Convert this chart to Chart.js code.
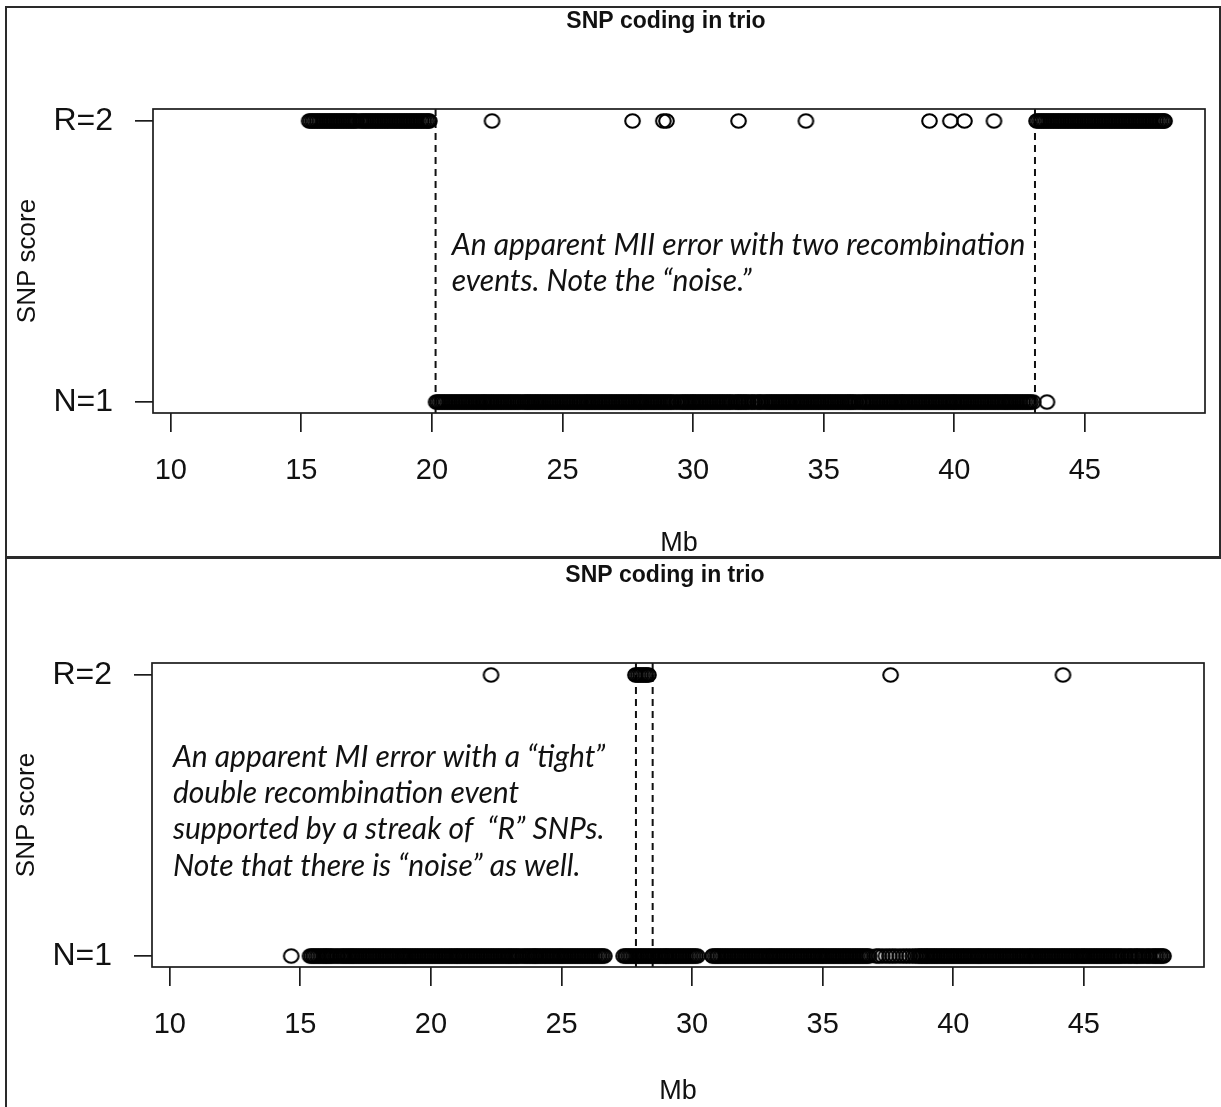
<!DOCTYPE html>
<html>
<head>
<meta charset="utf-8">
<script src="https://cdn.jsdelivr.net/npm/chart.js@4.4.0/dist/chart.umd.min.js"></script>
<style>
  body { margin: 0; background: #fff; width: 1221px; height: 1107px; overflow: hidden; position: relative; }
  .frame { position: absolute; border: 2px solid #2a2a2a; box-sizing: border-box; }
  canvas { position: absolute; }
</style>
</head>
<body>
<div class="frame" style="left:5px;top:6px;width:1216px;height:552px"></div>
<div class="frame" style="left:5px;top:557px;width:1240px;height:600px"></div>
<canvas id="topChart" width="1221" height="560" style="left:0;top:0"></canvas>
<canvas id="bottomChart" width="1221" height="554" style="left:-1.5px;top:554px"></canvas>
<script>
// axis ticks shared by both panels
var xTicks = [10, 15, 20, 25, 30, 35, 40, 45];
var yTickValues = [1, 2];
var yTickLabels = ['N=1', 'R=2'];

// upper panel: SNP positions (Mb) scored R=2 and N=1
var topR = [
  15.30, 15.36, 15.43, 15.49, 15.56, 15.62, 15.69, 15.75, 15.82, 15.88, 15.95,
  16.01, 16.08, 16.14, 16.21, 16.27, 16.34, 16.40, 16.47, 16.53, 16.60, 16.66, 16.73, 16.80, 16.86, 16.93, 16.99,
  17.06, 17.12, 17.24, 17.31, 17.38, 17.45, 17.51, 17.58, 17.65, 17.71, 17.78, 17.84, 17.91, 17.97,
  18.04, 18.10, 18.17, 18.23, 18.30, 18.36, 18.43, 18.50, 18.56, 18.63, 18.69, 18.76, 18.82, 18.89, 18.95,
  19.02, 19.08, 19.15, 19.21, 19.28, 19.34, 19.41, 19.47, 19.54, 19.60, 19.67, 19.73, 19.80, 19.86, 19.90,
  22.30, 27.68, 28.86, 28.98, 31.74, 34.32, 39.05, 39.85, 40.39, 41.52,
  43.15, 43.21, 43.28, 43.34, 43.41, 43.47, 43.54, 43.60, 43.67, 43.73, 43.80, 43.86, 43.93, 43.99,
  44.06, 44.12, 44.19, 44.25, 44.32, 44.38, 44.45, 44.51, 44.58, 44.64, 44.71, 44.77, 44.84, 44.90, 44.97,
  45.03, 45.10, 45.16, 45.23, 45.29, 45.36, 45.42, 45.49, 45.55, 45.62, 45.68, 45.75, 45.81, 45.88, 45.94,
  46.01, 46.07, 46.14, 46.20, 46.27, 46.33, 46.40, 46.46, 46.53, 46.59, 46.66, 46.72, 46.79, 46.85, 46.92, 46.98,
  47.05, 47.11, 47.18, 47.24, 47.31, 47.37, 47.44, 47.50, 47.57, 47.63, 47.70, 47.76, 47.83, 47.89, 47.96,
  48.02, 48.05
];
var topN = [
  20.16, 20.22, 20.28, 20.35, 20.41, 20.48, 20.54, 20.61, 20.67, 20.74, 20.80, 20.87, 20.93,
  21.00, 21.06, 21.13, 21.19, 21.26, 21.32, 21.39, 21.45, 21.52, 21.58, 21.65, 21.71, 21.78, 21.84, 21.91, 21.97,
  22.02, 22.09, 22.15, 22.22, 22.28, 22.35, 22.41, 22.48, 22.54, 22.61, 22.67, 22.74, 22.80, 22.87, 22.93,
  23.00, 23.06, 23.13, 23.19, 23.26, 23.32, 23.39, 23.47, 23.55, 23.60, 23.66, 23.72, 23.78, 23.84, 23.91, 23.97,
  24.03, 24.09, 24.15, 24.22, 24.28, 24.35, 24.41, 24.48, 24.54, 24.61, 24.67, 24.74, 24.80, 24.87, 24.93,
  25.00, 25.06, 25.13, 25.19, 25.26, 25.32, 25.39, 25.45, 25.52, 25.58, 25.65, 25.71, 25.78, 25.84, 25.91, 25.97,
  26.02, 26.09, 26.15, 26.22, 26.28, 26.35, 26.41, 26.48, 26.54, 26.61, 26.67, 26.74, 26.80, 26.87, 26.93,
  27.00, 27.06, 27.13, 27.19, 27.26, 27.32, 27.39, 27.45, 27.52, 27.58, 27.65, 27.71, 27.78, 27.84, 27.91, 27.97,
  28.02, 28.09, 28.15, 28.22, 28.28, 28.35, 28.41, 28.48, 28.54, 28.61, 28.67, 28.74, 28.80, 28.87, 28.93,
  29.00, 29.06, 29.13, 29.19, 29.26, 29.36, 29.42, 29.52, 29.58, 29.65, 29.71, 29.78, 29.84, 29.91, 29.97,
  30.02, 30.09, 30.15, 30.22, 30.28, 30.35, 30.41, 30.48, 30.54, 30.61, 30.67, 30.74, 30.80, 30.87, 30.93,
  31.00, 31.06, 31.13, 31.19, 31.26, 31.32, 31.39, 31.45, 31.52, 31.62, 31.68, 31.74, 31.80, 31.86, 31.93, 31.99,
  32.06, 32.12, 32.22, 32.28, 32.35, 32.45, 32.51, 32.58, 32.64, 32.74, 32.80, 32.87, 32.93,
  33.00, 33.06, 33.13, 33.19, 33.26, 33.32, 33.39, 33.45, 33.52, 33.58, 33.65, 33.71, 33.78, 33.84, 33.91, 33.97,
  34.02, 34.09, 34.15, 34.22, 34.28, 34.35, 34.41, 34.48, 34.54, 34.61, 34.67, 34.74, 34.80, 34.87, 34.93,
  35.00, 35.06, 35.13, 35.19, 35.26, 35.32, 35.39, 35.45, 35.52, 35.58, 35.65, 35.71, 35.78, 35.84, 35.91, 35.97,
  36.02, 36.09, 36.15, 36.22, 36.32, 36.38, 36.48, 36.54, 36.61, 36.67, 36.74, 36.80, 36.87, 36.93,
  37.00, 37.06, 37.13, 37.19, 37.26, 37.32, 37.39, 37.45, 37.52, 37.58, 37.65, 37.71, 37.78, 37.84, 37.91, 37.97,
  38.02, 38.09, 38.15, 38.22, 38.28, 38.35, 38.41, 38.48, 38.54, 38.61, 38.67, 38.74, 38.80, 38.87, 38.93,
  39.00, 39.06, 39.13, 39.19, 39.26, 39.32, 39.39, 39.45, 39.52, 39.58, 39.65, 39.71, 39.78, 39.84, 39.91, 39.97,
  40.02, 40.09, 40.15, 40.22, 40.28, 40.35, 40.41, 40.48, 40.54, 40.61, 40.67, 40.74, 40.80, 40.87, 40.93,
  41.00, 41.06, 41.13, 41.19, 41.26, 41.32, 41.39, 41.45, 41.52, 41.58, 41.65, 41.71, 41.78, 41.84, 41.91, 41.97,
  42.02, 42.09, 42.15, 42.22, 42.28, 42.35, 42.41, 42.48, 42.54, 42.61, 42.67, 42.74, 42.80, 42.87, 42.93,
  43.02, 43.55
];
var topBreaks = [20.14, 43.09];
var topNote = ['An apparent MII error with two recombination', 'events. Note the \u201cnoise.\u201d'];

// lower panel
var bottomR = [22.30, 27.83, 27.89, 27.95, 28.02, 28.08, 28.15, 28.21, 28.27, 28.33, 37.60, 44.20];
var bottomN = [
  14.65,
  15.37, 15.43, 15.50, 15.56, 15.63, 15.69, 15.76, 15.82, 15.89, 15.95,
  16.00, 16.06, 16.13, 16.19, 16.26, 16.36, 16.42, 16.52, 16.58, 16.65, 16.71, 16.78, 16.84, 16.91, 16.97,
  17.02, 17.09, 17.15, 17.22, 17.28, 17.35, 17.41, 17.48, 17.54, 17.61, 17.67, 17.74, 17.80, 17.87, 17.93,
  18.00, 18.06, 18.13, 18.19, 18.26, 18.32, 18.39, 18.45, 18.52, 18.58, 18.65, 18.71, 18.78, 18.84, 18.91, 18.97,
  19.02, 19.09, 19.15, 19.22, 19.28, 19.35, 19.41, 19.48, 19.54, 19.61, 19.67, 19.74, 19.80, 19.87, 19.93,
  20.00, 20.06, 20.13, 20.19, 20.26, 20.32, 20.39, 20.45, 20.52, 20.58, 20.65, 20.71, 20.78, 20.84, 20.91, 20.97,
  21.02, 21.09, 21.15, 21.22, 21.28, 21.35, 21.41, 21.48, 21.54, 21.61, 21.67, 21.74, 21.80, 21.87, 21.93,
  22.00, 22.06, 22.13, 22.19, 22.26, 22.32, 22.39, 22.45, 22.52, 22.58, 22.65, 22.71, 22.78, 22.84, 22.91, 22.97,
  23.02, 23.09, 23.15, 23.22, 23.28, 23.35, 23.41, 23.51, 23.57, 23.64, 23.70, 23.77, 23.83, 23.90, 23.96,
  24.00, 24.06, 24.13, 24.19, 24.26, 24.32, 24.39, 24.45, 24.52, 24.58, 24.65, 24.71, 24.78, 24.84, 24.91, 24.97,
  25.02, 25.09, 25.15, 25.22, 25.28, 25.35, 25.41, 25.48, 25.54, 25.61, 25.67, 25.74, 25.80, 25.87, 25.93,
  26.00, 26.06, 26.13, 26.19, 26.26, 26.32, 26.39, 26.45, 26.52, 26.58, 26.64,
  27.38, 27.45, 27.50, 27.57, 27.63, 27.69, 27.76, 27.82, 27.88, 27.95,
  28.01, 28.07, 28.14, 28.20, 28.27, 28.33, 28.40, 28.46, 28.53, 28.59, 28.66, 28.72, 28.79, 28.85, 28.92, 28.98,
  29.02, 29.09, 29.15, 29.22, 29.28, 29.35, 29.41, 29.48, 29.54, 29.61, 29.67, 29.74, 29.80, 29.87, 29.93,
  30.00, 30.06, 30.13, 30.20, 30.78, 30.84, 30.91, 30.97,
  31.02, 31.09, 31.15, 31.22, 31.28, 31.35, 31.41, 31.48, 31.54, 31.61, 31.67, 31.74, 31.80, 31.87, 31.93,
  32.00, 32.06, 32.13, 32.19, 32.26, 32.32, 32.39, 32.45, 32.52, 32.58, 32.65, 32.71, 32.78, 32.84, 32.91, 32.97,
  33.02, 33.09, 33.15, 33.22, 33.28, 33.35, 33.41, 33.48, 33.54, 33.61, 33.67, 33.74, 33.80, 33.87, 33.93,
  34.00, 34.06, 34.13, 34.19, 34.26, 34.32, 34.39, 34.45, 34.52, 34.58, 34.65, 34.71, 34.78, 34.84, 34.91, 34.97,
  35.02, 35.09, 35.15, 35.22, 35.28, 35.35, 35.41, 35.48, 35.54, 35.61, 35.67, 35.74, 35.80, 35.87, 35.93,
  36.00, 36.06, 36.13, 36.19, 36.26, 36.32, 36.39, 36.45, 36.52, 36.58, 36.65, 36.71, 36.78,
  37.05, 37.15, 37.28, 37.42, 37.55, 37.68, 37.80, 37.95, 38.08, 38.20, 38.32, 38.45, 38.55,
  38.65, 38.71, 38.78, 38.84, 38.91, 38.97,
  39.02, 39.09, 39.15, 39.22, 39.28, 39.35, 39.41, 39.48, 39.54, 39.61, 39.67, 39.74, 39.80, 39.87, 39.93,
  40.00, 40.06, 40.13, 40.19, 40.26, 40.32, 40.39, 40.45, 40.52, 40.58, 40.65, 40.71, 40.78, 40.84, 40.91, 40.97,
  41.02, 41.09, 41.15, 41.22, 41.28, 41.35, 41.41, 41.48, 41.54, 41.61, 41.67, 41.74, 41.80, 41.87, 41.93,
  42.00, 42.06, 42.13, 42.19, 42.26, 42.32, 42.39, 42.45, 42.52, 42.58, 42.65, 42.71, 42.78, 42.84, 42.91, 42.97,
  43.02, 43.09, 43.15, 43.22, 43.28, 43.35, 43.41, 43.48, 43.54, 43.61, 43.67, 43.74, 43.80, 43.87, 43.93,
  44.00, 44.06, 44.13, 44.19, 44.26, 44.32, 44.39, 44.45, 44.52, 44.58, 44.65, 44.71, 44.78, 44.84, 44.91, 44.97,
  45.02, 45.09, 45.15, 45.22, 45.28, 45.35, 45.41, 45.48, 45.54, 45.61, 45.67, 45.74, 45.80, 45.87, 45.93,
  46.00, 46.06, 46.13, 46.19, 46.26, 46.32, 46.39, 46.45, 46.55, 46.61, 46.71, 46.78, 46.84, 46.94, 47.00,
  47.06, 47.13, 47.22, 47.28, 47.38, 47.45, 47.51, 47.61, 47.67, 47.74, 47.80, 47.87, 47.93,
  48.00, 48.05
];
var bottomBreaks = [27.85, 28.49];
var bottomNote = [
  'An apparent MI error with a \u201ctight\u201d',
  'double recombination event',
  'supported by a streak of  \u201cR\u201d SNPs.',
  'Note that there is \u201cnoise\u201d as well.'
];

var sans = "'Liberation Sans', Arial, sans-serif";

// open circle (R pch = 1), a touch wider than tall
function ringMarker() {
  var c = document.createElement('canvas');
  c.width = 19; c.height = 18;
  var g = c.getContext('2d');
  g.strokeStyle = '#000';
  g.lineWidth = 2.1;
  g.beginPath();
  g.ellipse(9.5, 9, 7.3, 6.8, 0, 0, Math.PI * 2);
  g.stroke();
  return c;
}
var ring = ringMarker();

// plot box, break lines, title and the free text note
var panelDecor = {
  id: 'panelDecor',
  beforeDatasetsDraw: function(chart, args, opts) {
    var ctx = chart.ctx, a = chart.chartArea, x = chart.scales.x;
    ctx.save();
    ctx.strokeStyle = '#111';
    ctx.lineWidth = 2;
    ctx.setLineDash([7, 5]);
    opts.breaks.forEach(function(b) {
      var px = x.getPixelForValue(b);
      ctx.beginPath();
      ctx.moveTo(px, a.top);
      ctx.lineTo(px, a.bottom);
      ctx.stroke();
    });
    ctx.restore();
  },
  afterDraw: function(chart, args, opts) {
    var ctx = chart.ctx, a = chart.chartArea, x = chart.scales.x, y = chart.scales.y;
    ctx.save();
    ctx.strokeStyle = '#1c1c1c';
    ctx.lineWidth = 1.7;
    ctx.strokeRect(a.left, a.top, a.width, a.height);

    ctx.fillStyle = '#111';
    ctx.textAlign = 'center';
    ctx.textBaseline = 'middle';
    ctx.font = 'bold 23px ' + sans;
    ctx.fillText(opts.title, (a.left + a.right) / 2 + opts.titleShift, opts.titleY);

    ctx.textAlign = 'left';
    ctx.font = 'italic 30px Lato, sans-serif';
    var nx = x.getPixelForValue(opts.noteAt[0]);
    var ny = y.getPixelForValue(opts.noteAt[1]);
    opts.note.forEach(function(line, i) {
      ctx.fillText(line, nx, ny + i * 36.3);
    });
    ctx.restore();
  }
};

function makePanel(id, rPos, nPos, breaks, note, noteAt, boxBottom) {
  var axisGrid = function(len) {
    return { drawOnChartArea: false, drawTicks: true, tickLength: len, color: '#1c1c1c', lineWidth: 1.7 };
  };
  return new Chart(document.getElementById(id), {
    type: 'scatter',
    data: {
      datasets: [
        { data: rPos.map(function(v) { return { x: v, y: 2 }; }) },
        { data: nPos.map(function(v) { return { x: v, y: 1 }; }) }
      ]
    },
    options: {
      responsive: false,
      animation: false,
      events: [],
      layout: { padding: { top: 109, right: 16, left: 0, bottom: 0 } },
      elements: { point: { pointStyle: ring, radius: 7 } },
      plugins: {
        legend: { display: false },
        tooltip: { enabled: false },
        panelDecor: {
          title: 'SNP coding in trio', titleY: 22, titleShift: -13,
          breaks: breaks, note: note, noteAt: noteAt
        }
      },
      scales: {
        x: {
          type: 'linear', min: 9.32, max: 49.6,
          afterBuildTicks: function(s) { s.ticks = xTicks.map(function(v) { return { value: v }; }); },
          afterFit: function(s) { s.height = s.chart.height - boxBottom; },
          grid: axisGrid(19),
          border: { display: false },
          ticks: { color: '#111', font: { family: sans, size: 29 }, padding: 22, maxRotation: 0, autoSkip: false },
          title: { display: true, text: 'Mb', color: '#111', font: { family: sans, size: 27 }, padding: { top: 0, bottom: 0 } }
        },
        y: {
          type: 'linear', min: 0.9609, max: 2.0427,
          afterBuildTicks: function(s) { s.ticks = yTickValues.map(function(v) { return { value: v }; }); },
          afterFit: function(s) { s.width = 153; },
          grid: axisGrid(18),
          border: { display: false },
          ticks: {
            color: '#111', font: { family: sans, size: 32 }, padding: 22,
            callback: function(v, i) { return yTickLabels[i]; }
          },
          title: { display: true, text: 'SNP score', color: '#111', font: { family: sans, size: 26 }, padding: { top: 12, bottom: 0 } }
        }
      }
    },
    plugins: [panelDecor]
  });
}

makePanel('topChart', topR, topN, topBreaks, topNote, [20.76, 1.559], 413);
makePanel('bottomChart', bottomR, bottomN, bottomBreaks, bottomNote, [10.12, 1.708], 413);
</script>
</body>
</html>
